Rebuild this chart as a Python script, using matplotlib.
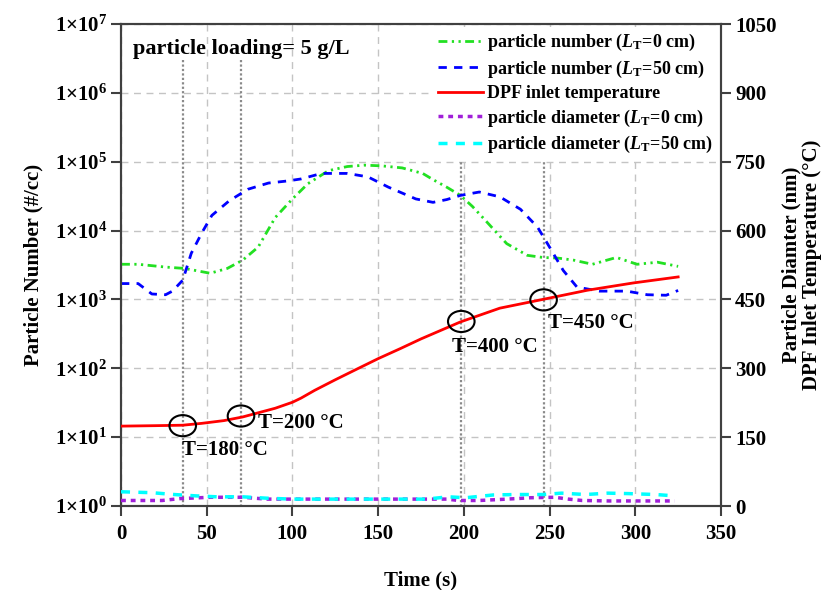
import matplotlib
matplotlib.use("Agg")
import matplotlib.pyplot as plt
from matplotlib.patches import Ellipse

plt.rcParams['font.family'] = ['Liberation Serif', 'DejaVu Serif']
plt.rcParams['font.weight'] = 'bold'
plt.rcParams['axes.labelweight'] = 'bold'
plt.rcParams['mathtext.fontset'] = 'custom'
plt.rcParams['mathtext.rm'] = 'Liberation Serif:bold'
plt.rcParams['mathtext.it'] = 'Liberation Serif:bold:italic'
plt.rcParams['mathtext.bf'] = 'Liberation Serif:bold'

# ---------------- data ----------------
t_green = [0, 10, 26, 37, 52, 62, 71, 80, 90, 100, 109, 121, 132, 142, 152, 164, 176,
           182, 190, 198, 205, 211, 218, 225, 237, 246, 255, 264, 275, 289, 301, 313, 325]
pn_green = [3240, 3240, 2950, 2820, 2400, 2820, 3720, 5750, 15500, 28800, 47900, 74100,
            85100, 89100, 87100, 81300, 67600, 55000, 42700, 32400, 22400, 15500, 10000,
            6460, 4370, 4070, 3980, 3720, 3240, 4070, 3240, 3470, 3020]

t_blue = [0, 10, 18, 26, 30, 36, 41, 47, 53, 63, 74, 86, 97, 105, 117, 132, 144, 156, 172,
          182, 190, 198, 209, 221, 233, 243, 250, 258, 266, 279, 295, 307, 318, 325]
pn_blue = [1700, 1700, 1200, 1170, 1320, 1900, 4680, 9120, 16600, 26900, 39800, 49000,
           52500, 56200, 67600, 67600, 60300, 42700, 28800, 25700, 28200, 32400, 36300,
           30900, 20400, 11200, 5750, 2630, 1510, 1320, 1320, 1170, 1150, 1350]

t_temp = [0, 20, 36, 47, 60, 71, 80, 90, 100, 105, 113, 125, 138, 150, 163, 175, 198, 221,
          246, 272, 299, 325]
temp = [174, 175, 176, 180, 186, 194, 203, 213, 226, 235, 252, 275, 299, 321, 343, 364, 401,
        431, 450, 470, 486, 499]

t_d0 = [0, 12, 24, 34, 46, 52, 62, 71, 85, 100, 120, 140, 160, 178, 190, 197, 209, 220,
        230, 239, 253, 261, 269, 285, 300, 312, 323]
dia_0 = [12, 12, 12, 16, 18, 19, 19, 19, 15, 15, 15, 15, 15, 15, 15, 12, 12, 14, 16, 18,
         19, 15, 12, 11, 11, 11, 11]

t_d50 = [0, 18, 31, 44, 56, 71, 85, 100, 114, 140, 160, 178, 191, 201, 217, 230, 246, 257,
         271, 284, 296, 312, 323]
dia_50 = [31, 29, 25, 22, 20, 20, 17, 15, 15, 15, 15, 15, 20, 18, 24, 25, 25, 28, 25, 28,
          27, 25, 22]

event_t = [36, 70, 198.5, 246.5]
event_T = [175, 196, 402, 449]
event_labels = ['T=180 °C', 'T=200 °C', 'T=400 °C', 'T=450 °C']
label_pos = [(35.5, 122), (80, 181), (193, 346), (249, 399)]

x_ticks = [0, 50, 100, 150, 200, 250, 300, 350]
y_ticks = [1, 10, 100, 1000, 10000, 100000, 1000000, 10000000]
y_ticklabels = [r'1×10$^{0}$', r'1×10$^{1}$', r'1×10$^{2}$', r'1×10$^{3}$',
                r'1×10$^{4}$', r'1×10$^{5}$', r'1×10$^{6}$', r'1×10$^{7}$']
r_ticks = [0, 150, 300, 450, 600, 750, 900, 1050]

# ---------------- figure ----------------
fig = plt.figure(figsize=(8.31, 5.90), dpi=100)
ax = fig.add_axes([121 / 831, 1 - 506 / 590, 600 / 831, 482 / 590])
ax2 = ax.twinx()

ax.set_yscale('log')
ax.set_xlim(0, 350)
ax.set_ylim(1, 1e7)
ax2.set_ylim(0, 1050)

ax.grid(True, which='major', color='#c4c4c4', linestyle=(0, (5, 4)), linewidth=1.0)
ax.minorticks_off()
ax.set_xticks(x_ticks)
ax.set_yticks(y_ticks)
ax.set_yticklabels(y_ticklabels)
ax2.set_yticks(r_ticks)

# vertical event lines
for te in event_t:
    ax.plot([te, te], [3e6, 1], color='#8a8a8a', linestyle=(0, (1, 1)), linewidth=1.6, zorder=2)

l1, = ax.plot(t_green, pn_green, color='#22e022', linewidth=2.0,
              linestyle=(0, (3.2, 1.6, 0.8, 1.6, 0.8, 1.6)), zorder=3,
              label=r'particle number ($L_{\mathrm{T}}$=0 cm)')
l2, = ax.plot(t_blue, pn_blue, color='#0000ff', linewidth=2.0,
              linestyle=(0, (3.0, 2.6)), zorder=3,
              label=r'particle number ($L_{\mathrm{T}}$=50 cm)')
l3, = ax2.plot(t_temp, temp, color='#ff0000', linewidth=2.0, zorder=3,
               label='DPF inlet temperature')
l4, = ax2.plot(t_d0, dia_0, color='#a020d8', linewidth=2.5,
               linestyle=(0, (1.4, 1.4)), zorder=3,
               label=r'particle diameter ($L_{\mathrm{T}}$=0 cm)')
l5, = ax2.plot(t_d50, dia_50, color='#00ffff', linewidth=2.5,
               linestyle=(0, (2.6, 2.4)), zorder=3,
               label=r'particle diameter ($L_{\mathrm{T}}$=50 cm)')

for te, Te in zip(event_t, event_T):
    ax2.add_patch(Ellipse((te, Te), 15.5, 46, fill=False, edgecolor='black',
                          linewidth=1.5, zorder=4))
for lab, (px, py) in zip(event_labels, label_pos):
    ax2.text(px, py, lab, fontsize=15, fontweight='bold', ha='left', va='center', zorder=4)

ax.text(7, 4.3e6, 'particle loading= 5 g/L', fontsize=16, fontweight='bold',
        ha='left', va='center')

leg = ax2.legend(handles=[l1, l2, l3, l4, l5], loc='upper right', bbox_to_anchor=(1.0, 1.0),
                 fontsize=13, frameon=True, framealpha=1.0, facecolor='white',
                 edgecolor='none', fancybox=False, handlelength=2.5, handletextpad=0.2,
                 labelspacing=0.3, borderpad=0.3, borderaxespad=0.15)
leg.set_zorder(10)
for txt in leg.get_texts():
    txt.set_fontweight('bold')

for a in (ax, ax2):
    for sp in a.spines.values():
        sp.set_color('#404040')
        sp.set_linewidth(1.5)
    a.tick_params(axis='both', direction='out', length=7, width=1.5, color='#404040',
                  labelsize=15)
ax.tick_params(axis='x', pad=6)
ax.tick_params(axis='y', pad=3)
ax2.tick_params(axis='y', pad=3)

ax.set_xlabel('Time (s)', fontsize=15, fontweight='bold', labelpad=19)
ax.set_ylabel('Particle Number (#/cc)', fontsize=15, fontweight='bold', labelpad=8)
ax2.set_ylabel('Particle Diamter (nm)\nDPF Inlet Temperature (°C)', fontsize=15,
               fontweight='bold', labelpad=4, linespacing=1.0)

fig.savefig('out.png', dpi=100)
